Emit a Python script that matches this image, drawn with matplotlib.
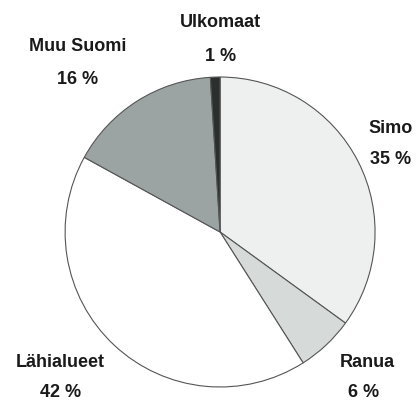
import matplotlib.pyplot as plt

# osuudet, myötäpäivään ylhäältä alkaen
alueet = ['Simo', 'Ranua', 'Lähialueet', 'Muu Suomi', 'Ulkomaat']
osuudet = [35, 6, 42, 16, 1]
varit = ['#eef0f0', '#d6dbda', '#ffffff', '#9ba4a3', '#2b302f']

# tekstien paikat (akselin yksiköissä, säde = 1)
nimi_xy = [(1.10, 0.67), (0.95, -0.845), (-1.03, -0.845), (-0.92, 1.194), (0.0, 1.355)]
pros_xy = [(1.10, 0.465), (0.925, -1.035), (-1.03, -1.035), (-0.92, 0.981), (0.0, 1.13)]

plt.rcParams['font.family'] = ['Liberation Sans', 'DejaVu Sans']

fig = plt.figure(figsize=(4.2, 4.0), dpi=100)
ax = fig.add_axes([0.155, 0.0325, 0.738, 0.775])
ax.pie(osuudet, colors=varit, startangle=90, counterclock=False, radius=1,
       wedgeprops={'edgecolor': '#555555', 'linewidth': 0.8})
ax.set_xlim(-1, 1)
ax.set_ylim(-1, 1)
ax.set_aspect('equal')
ax.axis('off')

for nimi, p, (x1, y1), (x2, y2) in zip(alueet, osuudet, nimi_xy, pros_xy):
    ax.text(x1, y1, nimi, ha='center', va='center', fontsize=13, fontweight='bold',
            color='#1a1a1a', clip_on=False)
    ax.text(x2, y2, f'{p} %', ha='center', va='center', fontsize=13, fontweight='bold',
            color='#1a1a1a', clip_on=False)

fig.savefig('out.png', dpi=100)
